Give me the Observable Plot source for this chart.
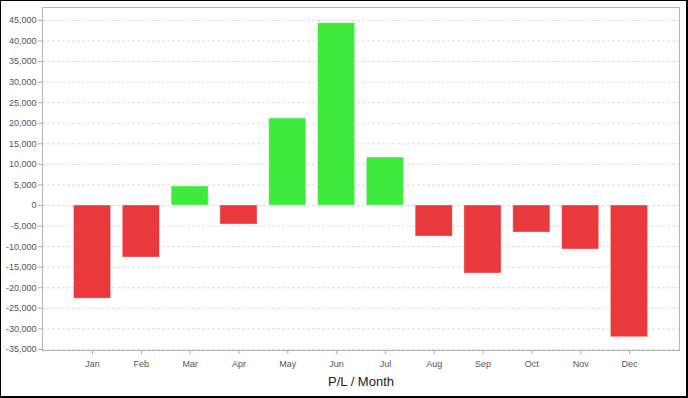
<!DOCTYPE html>
<html>
<head>
<meta charset="utf-8">
<script src="https://cdn.jsdelivr.net/npm/d3@7"></script>
<script src="https://cdn.jsdelivr.net/npm/@observablehq/plot@0.6"></script>
<style>
  html, body { margin: 0; padding: 0; background: #fff; }
  #wrap { position: relative; width: 688px; height: 398px; overflow: hidden; }
  #wrap svg { display: block; }
  #border { position: absolute; left: 0; top: 0; width: 688px; height: 398px; box-sizing: border-box;
            border-left: 1px solid #000; border-top: 1px solid #000; border-right: 2px solid #000; border-bottom: 2px solid #000; pointer-events: none; }
</style>
</head>
<body>
<div id="wrap"><div id="border"></div></div>
<script>
const months = ["Jan","Feb","Mar","Apr","May","Jun","Jul","Aug","Sep","Oct","Nov","Dec"];
const values = [-22650, -12650, 4620, -4620, 21150, 44330, 11670, -7540, -16540, -6570, -10700, -32030];
const yTicks = [-35000,-30000,-25000,-20000,-15000,-10000,-5000,0,5000,10000,15000,20000,25000,30000,35000,40000,45000];
const xTitle = "P/L / Month";

const data = months.map((m, i) => ({month: m, value: values[i]}));
const red = "#e9393d", green = "#3eea3c";
const fmt = d => d.toLocaleString("en-US");

const chart = Plot.plot({
  width: 688,
  height: 398,
  marginLeft: 42,
  marginRight: 9,
  marginTop: 7,
  marginBottom: 48,
  style: {fontFamily: "'Liberation Sans', Arial, sans-serif", fontSize: "9px", color: "#444", background: "transparent"},
  x: {domain: months, paddingInner: 0.24, paddingOuter: 0.645, round: false, label: null},
  y: {domain: [-35260, 48150], label: null},
  marks: [
    Plot.gridY(yTicks, {stroke: "#dcdcdc", strokeOpacity: 1, strokeDasharray: "3,2"}),
    Plot.barY(data, {x: "month", y1: 0, y2: "value", fill: d => d.value >= 0 ? green : red, stroke: "#fff", strokeOpacity: 0.35, strokeWidth: 1}),
    Plot.frame({stroke: "#b4b4b4"}),
    Plot.axisY(yTicks, {tickFormat: fmt, tickSize: 4, tickPadding: 2, stroke: "#aaa", fill: "#555", fontSize: 9, label: null}),
    Plot.axisX({tickSize: 4, tickPadding: 6, stroke: "#aaa", fill: "#555", fontSize: 9, label: null}),
    Plot.text([xTitle], {frameAnchor: "bottom", dy: 35, fontSize: 13, fill: "#222"})
  ]
});
document.getElementById("wrap").insertBefore(chart, document.getElementById("border"));
</script>
</body>
</html>
